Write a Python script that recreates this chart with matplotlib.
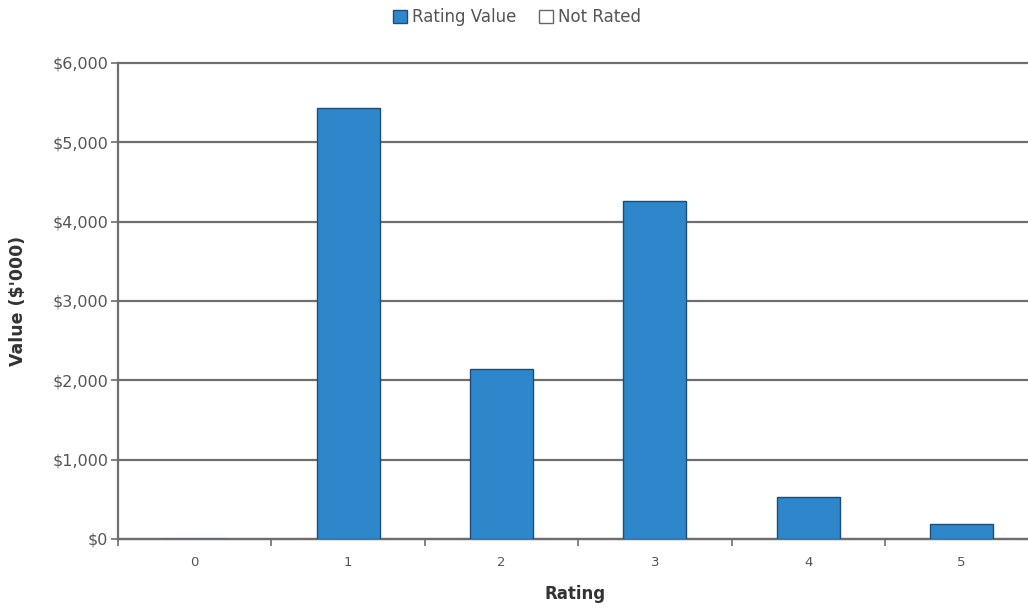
import matplotlib.pyplot as plt
from matplotlib.patches import Patch
from matplotlib.ticker import FuncFormatter, MultipleLocator

# Data
ratings = ["0", "1", "2", "3", "4", "5"]
rating_values = [0, 5430, 2140, 4260, 525, 185]

bar_color = "#2E87CB"
edge_color = "#1E4E78"
grid_color = "#6E6E6E"
text_color = "#555555"

plt.rcParams['font.family'] = ['DejaVu Sans']

fig = plt.figure(figsize=(10.28, 6.12), dpi=100)
ax = fig.add_axes([0.1148, 0.1193, 0.8952, 0.7778])

x = list(range(len(ratings)))
ax.bar(x, rating_values, width=0.41, color=bar_color, edgecolor=edge_color,
       linewidth=1.0, zorder=3)

ax.set_xlim(-0.5, 5.47)
ax.set_ylim(0, 6000)
ax.yaxis.set_major_locator(MultipleLocator(1000))
ax.yaxis.set_major_formatter(FuncFormatter(lambda v, p: f"${v:,.0f}"))
ax.grid(axis="y", color=grid_color, linewidth=1.6, zorder=1)
for gl in ax.yaxis.get_gridlines():
    gl.set_clip_on(False)

ax.set_xticks(x)
ax.set_xticklabels(ratings)
ax.set_xticks([i + 0.5 for i in range(-1, len(ratings))], minor=True)
ax.tick_params(axis="x", which="major", length=0, pad=12, labelsize=9.5, colors=text_color)
ax.tick_params(axis="x", which="minor", length=5, width=1.2, color=grid_color)
ax.tick_params(axis="y", length=5, width=1.2, color=grid_color, labelsize=11.5,
               labelcolor=text_color, pad=2)

for side in ["top", "right"]:
    ax.spines[side].set_visible(False)
for side in ["left", "bottom"]:
    ax.spines[side].set_color(grid_color)
    ax.spines[side].set_linewidth(1.6)

ax.set_ylabel("Value ($'000)", fontsize=12.5, fontweight="bold", color="#333333")
ax.yaxis.set_label_coords(-0.099, 0.5)
ax.set_xlabel("Rating", fontsize=12, fontweight="bold", color="#333333")
ax.xaxis.set_label_coords(0.497, -0.097)

handles = [Patch(facecolor=bar_color, edgecolor=edge_color, label="Rating Value"),
           Patch(facecolor="white", edgecolor="#666666", label="Not Rated")]
fig.legend(handles=handles, loc="center", bbox_to_anchor=(0.503, 0.972), ncol=2,
           frameon=False, fontsize=12, handlelength=0.8, handleheight=0.8,
           handletextpad=0.3, columnspacing=1.4, labelcolor=text_color)

fig.savefig("out.png", dpi=100)
